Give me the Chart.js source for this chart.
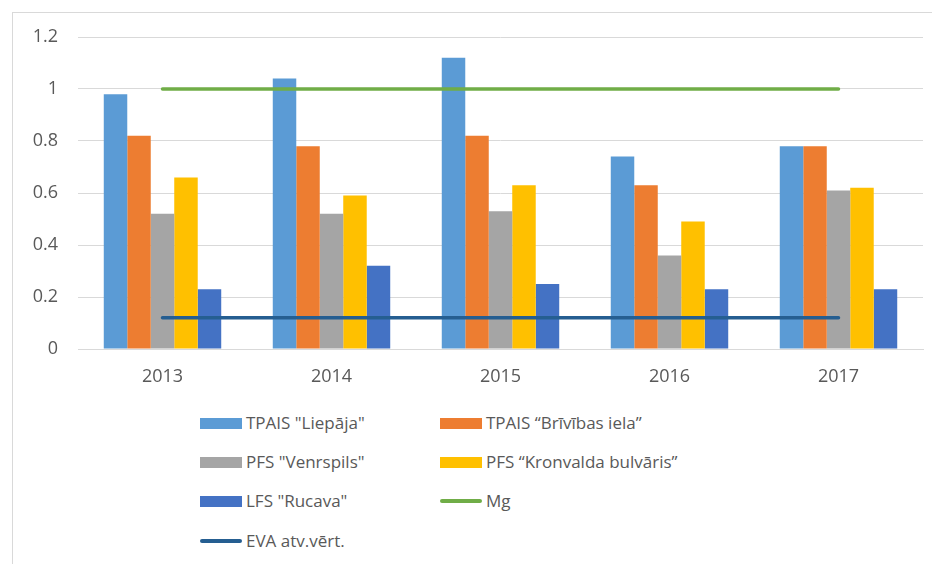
<!DOCTYPE html>
<html>
<head>
<meta charset="utf-8">
<script src="https://cdn.jsdelivr.net/npm/chart.js@4/dist/chart.umd.min.js"></script>
<style>
  body { margin: 0; background: #fff; }
  #wrap { position: relative; width: 932px; height: 564px; overflow: hidden; }
  #frame { position: absolute; left: 12px; top: 12px; width: 940px; height: 600px; border: 1px solid #d9d9d9; box-sizing: border-box; }
  #chartBox { position: absolute; left: 0; top: 0; width: 932px; height: 400px; }
  .legend-item { position: absolute; font-family: "Open Sans", sans-serif; font-size: 17px; color: #595959; white-space: nowrap; line-height: 20px; }
  .legend-item .sw { display: inline-block; width: 42px; vertical-align: middle; margin-right: 4px; position: relative; top: -1px; }
</style>
</head>
<body>
<div id="wrap">
  <div id="frame"></div>
  <div id="chartBox"><canvas id="chart"></canvas></div>
  <div id="legend"></div>
</div>
<script>
// data
const years = ['2013', '2014', '2015', '2016', '2017'];
const liepaja   = [0.98, 1.04, 1.12, 0.74, 0.78];
const brivibas  = [0.82, 0.78, 0.82, 0.63, 0.78];
const venspils  = [0.52, 0.52, 0.53, 0.36, 0.61];
const kronvalda = [0.66, 0.59, 0.63, 0.49, 0.62];
const rucava    = [0.23, 0.32, 0.25, 0.23, 0.23];
const mg        = [1, 1, 1, 1, 1];
const eva       = [0.12, 0.12, 0.12, 0.12, 0.12];
const yTicks    = [0, 0.2, 0.4, 0.6, 0.8, 1, 1.2];

const TEXT = '#595959';
const GRID = '#d9d9d9';

const bar = (label, data, color) => ({ type: 'bar', label, data, backgroundColor: color, order: 1, barPercentage: 1, categoryPercentage: 0.695 });
const line = (label, data, color) => ({ type: 'line', label, data, borderColor: color, backgroundColor: color, borderWidth: 3.5, pointRadius: 0, borderCapStyle: 'round', order: 0 });

const datasets = [
  bar('TPAIS "Liepāja"', liepaja, '#5B9BD5'),
  bar('TPAIS “Brīvības iela”', brivibas, '#ED7D31'),
  bar('PFS "Venrspils"', venspils, '#A5A5A5'),
  bar('PFS “Kronvalda bulvāris”', kronvalda, '#FFC000'),
  bar('LFS "Rucava"', rucava, '#4472C4'),
  line('Mg', mg, '#70AD47'),
  line('EVA atv.vērt.', eva, '#255E91')
];

new Chart(document.getElementById('chart'), {
  data: { labels: years, datasets },
  options: {
    responsive: true,
    maintainAspectRatio: false,
    animation: false,
    layout: { padding: { left: 0, right: 9, top: 37, bottom: 0 } },
    plugins: { legend: { display: false }, tooltip: { enabled: false } },
    scales: {
      x: {
        grid: { display: false, drawTicks: false },
        border: { color: GRID, width: 1 },
        ticks: { color: TEXT, font: { family: 'Open Sans', size: 18 }, padding: 17 },
        afterFit: s => { s.height = 51; }
      },
      y: {
        min: 0, max: 1.2,
        afterBuildTicks: s => { s.ticks = yTicks.map(v => ({ value: v })); },
        grid: { color: GRID, lineWidth: 1, drawTicks: false },
        border: { display: false },
        ticks: { color: TEXT, font: { family: 'Open Sans', size: 18 }, padding: 20, callback: v => String(v) },
        afterFit: s => { s.width = 78; }
      }
    }
  }
});

// legend in two columns below the chart
const legendPos = [[200, 423], [440, 423], [200, 462], [440, 462], [200, 501], [440, 501], [200, 541]];
const legend = document.getElementById('legend');
datasets.forEach((d, i) => {
  const el = document.createElement('div');
  el.className = 'legend-item';
  el.style.left = legendPos[i][0] + 'px';
  el.style.top = (legendPos[i][1] - 10) + 'px';
  const sw = document.createElement('span');
  sw.className = 'sw';
  if (d.type === 'bar') {
    sw.style.height = '11px';
    sw.style.background = d.backgroundColor;
  } else {
    sw.style.height = '4px';
    sw.style.borderRadius = '2px';
    sw.style.background = d.borderColor;
  }
  el.appendChild(sw);
  el.appendChild(document.createTextNode(d.label));
  legend.appendChild(el);
});
</script>
</body>
</html>
